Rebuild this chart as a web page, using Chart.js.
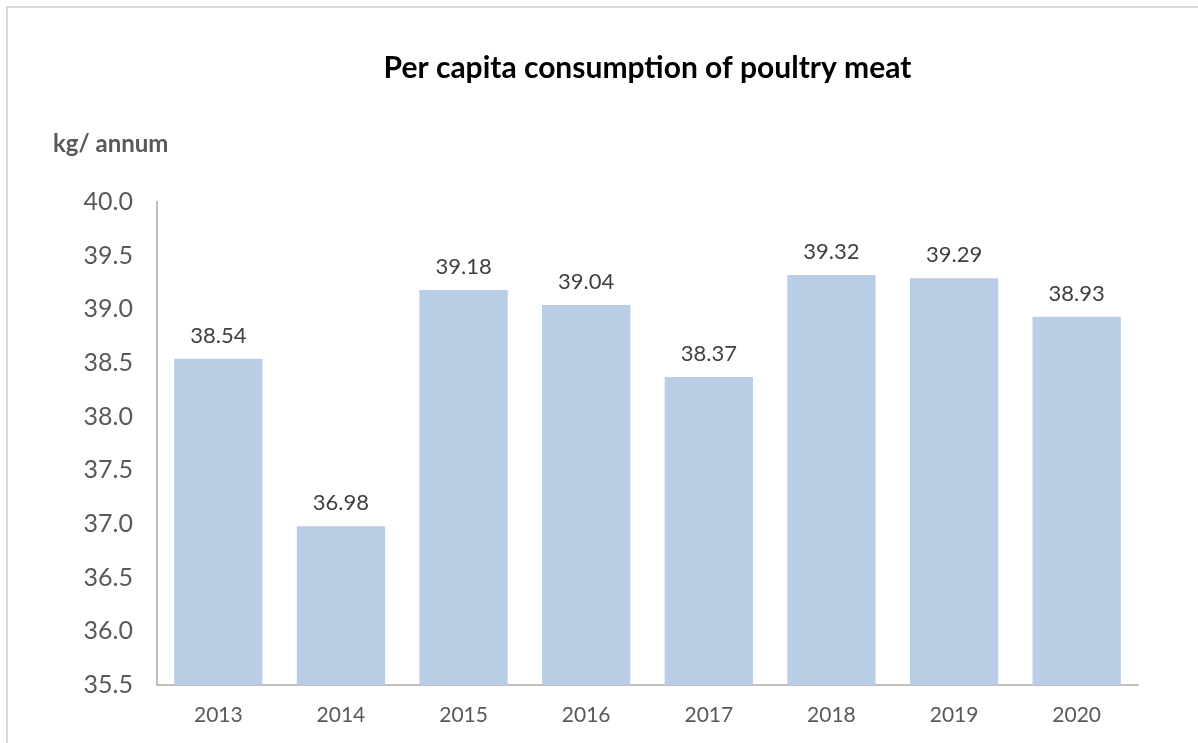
<!DOCTYPE html>
<html lang="en">
<head>
    <meta charset="UTF-8">
    <title>Per capita consumption of poultry meat</title>
    <style>
        html, body { margin: 0; padding: 0; background: #fff; overflow: hidden; }
        .frame {
            position: absolute;
            left: 6px;
            top: 6px;
            width: 1192px;
            height: 737px;
            border-top: 2px solid #d9d9d9;
            border-left: 2px solid #d9d9d9;
        }
        .frame canvas { display: block; }
    </style>
</head>
<body>
    <div class="frame">
        <canvas id="poultryChart" width="1190" height="735"></canvas>
    </div>

    <script src="https://cdn.jsdelivr.net/npm/chart.js"></script>
    <script>
const years = ['2013', '2014', '2015', '2016', '2017', '2018', '2019', '2020'];
const consumption = [38.54, 36.98, 39.18, 39.04, 38.37, 39.32, 39.29, 38.93];
const yTicks = [35.5, 36.0, 36.5, 37.0, 37.5, 38.0, 38.5, 39.0, 39.5, 40.0];

const chartTitle = 'Per capita consumption of poultry meat';
const unitLabel = 'kg/ annum';
const fontFamily = 'Lato, "Open Sans", sans-serif';
const textColor = '#595959';

// title, unit caption and the value above each bar
const labelsPlugin = {
    id: 'labels',
    afterDraw(chart) {
        const ctx = chart.ctx;
        const area = chart.chartArea;
        ctx.save();

        ctx.fillStyle = '#000';
        ctx.font = 'bold 30px ' + fontFamily;
        ctx.textAlign = 'center';
        ctx.textBaseline = 'middle';
        ctx.fillText(chartTitle, (area.left + area.right) / 2, 60);

        ctx.fillStyle = textColor;
        ctx.font = 'bold 24px ' + fontFamily;
        ctx.textAlign = 'left';
        ctx.fillText(unitLabel, 45, 136);

        ctx.fillStyle = '#404040';
        ctx.font = '22px ' + fontFamily;
        ctx.textAlign = 'center';
        ctx.textBaseline = 'bottom';
        const meta = chart.getDatasetMeta(0);
        meta.data.forEach((bar, i) => {
            ctx.fillText(consumption[i].toFixed(2), bar.x, bar.y - 12);
        });
        ctx.restore();
    }
};

new Chart(document.getElementById('poultryChart'), {
    type: 'bar',
    data: {
        labels: years,
        datasets: [{
            data: consumption,
            backgroundColor: '#b9cde5',
            borderWidth: 0,
            barPercentage: 0.72,
            categoryPercentage: 1.0
        }]
    },
    options: {
        responsive: false,
        animation: false,
        layout: { padding: { top: 194, right: 60, bottom: 0, left: 0 } },
        plugins: {
            legend: { display: false },
            tooltip: { enabled: false }
        },
        scales: {
            x: {
                grid: { display: false, drawTicks: false },
                border: { color: '#bfbfbf', width: 2 },
                ticks: { color: textColor, font: { family: fontFamily, size: 21 }, padding: 18 },
                afterFit: s => { s.height = 58; }
            },
            y: {
                min: 35.5,
                max: 40.0,
                afterBuildTicks: s => { s.ticks = yTicks.map(v => ({ value: v })); },
                grid: { display: false, drawTicks: false },
                border: { color: '#bfbfbf', width: 2 },
                ticks: {
                    color: textColor,
                    font: { family: fontFamily, size: 25 },
                    padding: 24,
                    callback: v => Number(v).toFixed(1)
                },
                afterFit: s => { s.width = 149; }
            }
        }
    },
    plugins: [labelsPlugin]
});
    </script>
</body>
</html>
